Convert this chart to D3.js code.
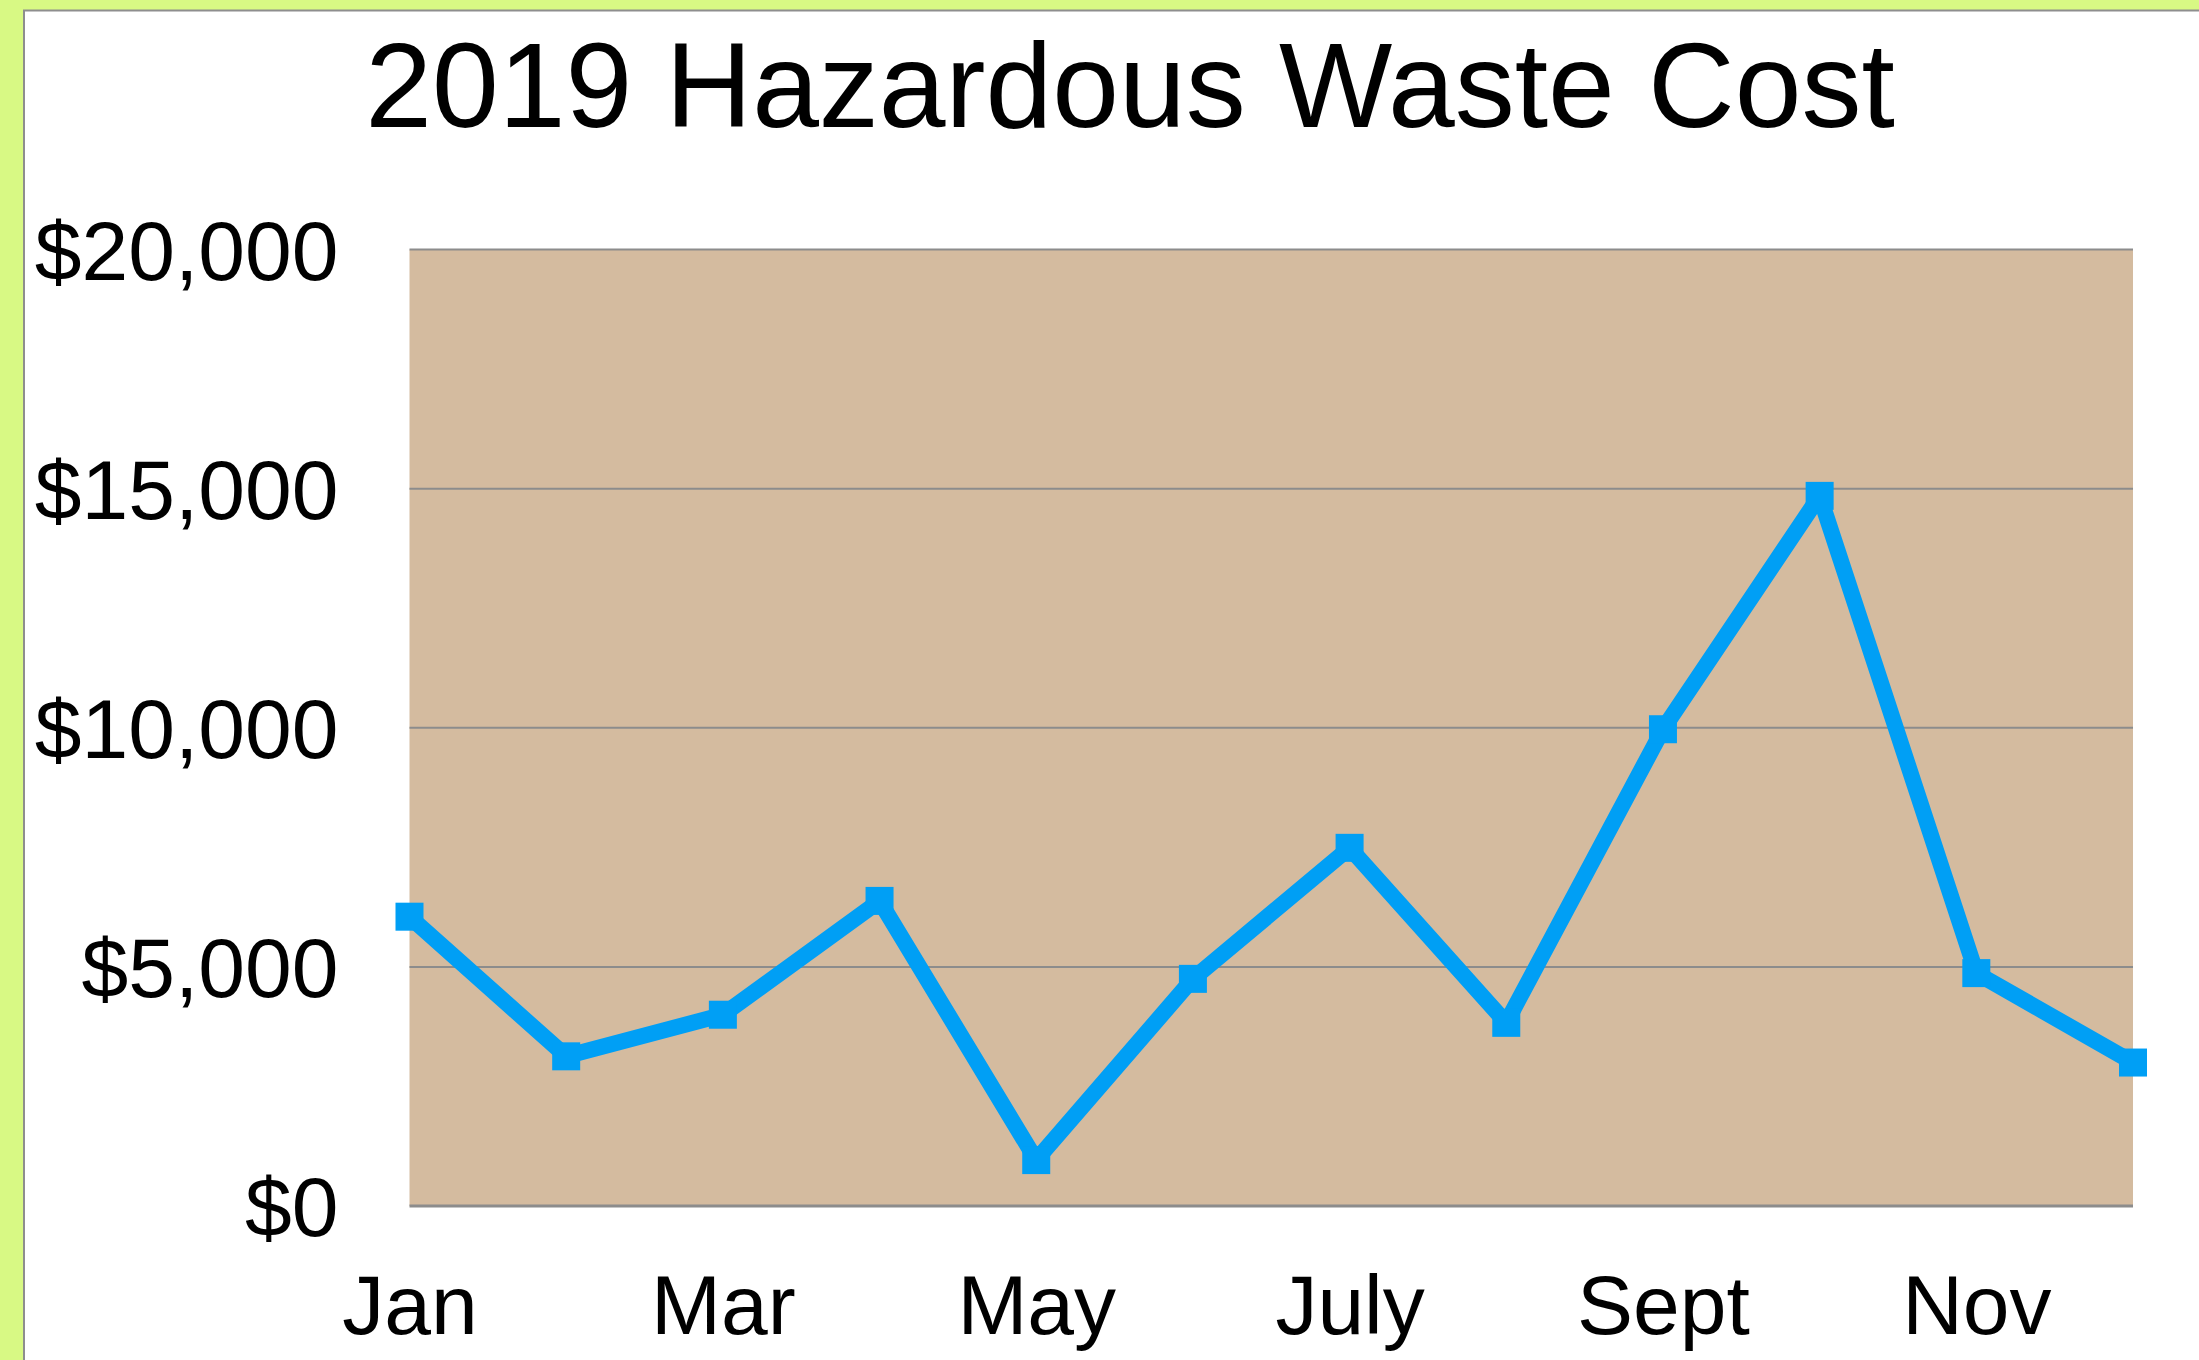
<!DOCTYPE html>
<html>
<head>
<meta charset="utf-8">
<script src="https://cdn.jsdelivr.net/npm/d3@7"></script>
<style>
  html, body { margin: 0; padding: 0; background: #d8f984; }
  svg { display: block; }
  text { font-family: "Liberation Sans", Arial, sans-serif; fill: #000; }
</style>
</head>
<body>
<svg id="chart" width="2199" height="1360"></svg>
<script>
// ---- data ----
const months = ["Jan", "Feb", "Mar", "Apr", "May", "June", "July", "Aug", "Sept", "Oct", "Nov", "Dec"];
const costs = [6050, 3130, 4000, 6380, 960, 4750, 7490, 3830, 9970, 14850, 4870, 3000];
const xTickLabels = ["Jan", "Mar", "May", "July", "Sept", "Nov"];
const yTickValues = [0, 5000, 10000, 15000, 20000];
const titleText = "2019 Hazardous Waste Cost";

// ---- layout ----
const W = 2199, H = 1360;
const plot = { left: 409.5, right: 2133, top: 249.6, bottom: 1206 };

const svg = d3.select("#chart");

// page background (green) and white panel with grey border
svg.append("rect").attr("x", 0).attr("y", 0).attr("width", W).attr("height", H).attr("fill", "#d8f984");
svg.append("rect")
  .attr("x", 24).attr("y", 10.5)
  .attr("width", W + 10).attr("height", H + 10)
  .attr("fill", "#ffffff")
  .attr("stroke", "#8e8e8e").attr("stroke-width", 2);

const x = d3.scalePoint().domain(months).range([plot.left, plot.right]).padding(0);
const y = d3.scaleLinear().domain([0, 20000]).range([plot.bottom, plot.top]);

// plot background
svg.append("rect")
  .attr("x", plot.left).attr("y", plot.top)
  .attr("width", plot.right - plot.left).attr("height", plot.bottom - plot.top)
  .attr("fill", "#d4bb9f");

// gridlines
svg.append("g").selectAll("line")
  .data(yTickValues)
  .join("line")
  .attr("x1", plot.left).attr("x2", plot.right)
  .attr("y1", d => y(d)).attr("y2", d => y(d))
  .attr("stroke", "#8c8c8c")
  .attr("stroke-width", d => d === 0 ? 3 : 2);

// y axis
const yAxis = d3.axisLeft(y)
  .tickValues(yTickValues)
  .tickSize(0)
  .tickPadding(71)
  .tickFormat(d3.format("$,"));
const gy = svg.append("g").attr("transform", `translate(${plot.left},0)`).call(yAxis);
gy.select(".domain").remove();
gy.selectAll("text")
  .attr("dy", "0.35em")
  .style("font-size", "84px")
  .style("font-family", "'Liberation Sans', Arial, sans-serif")
  .attr("fill", "#000");

// x axis
const xAxis = d3.axisBottom(x)
  .tickValues(xTickLabels)
  .tickSize(0)
  .tickPadding(68);
const gx = svg.append("g").attr("transform", `translate(0,${plot.bottom})`).call(xAxis);
gx.select(".domain").remove();
gx.selectAll("text")
  .style("font-size", "84px")
  .style("font-family", "'Liberation Sans', Arial, sans-serif")
  .attr("fill", "#000");

// line
const data = months.map((m, i) => ({ m, v: costs[i] }));
const line = d3.line().x(d => x(d.m)).y(d => y(d.v));
svg.append("path")
  .datum(data)
  .attr("d", line)
  .attr("fill", "none")
  .attr("stroke", "#009ff5")
  .attr("stroke-width", 16)
  .attr("stroke-linejoin", "round");

// markers
const ms = 28;
svg.append("g").selectAll("rect")
  .data(data)
  .join("rect")
  .attr("x", d => x(d.m) - ms / 2)
  .attr("y", d => y(d.v) - ms / 2)
  .attr("width", ms).attr("height", ms)
  .attr("fill", "#009ff5");

// title
svg.append("text")
  .attr("x", 1130).attr("y", 127)
  .attr("text-anchor", "middle")
  .style("font-size", "120px")
  .text(titleText);
</script>
</body>
</html>
